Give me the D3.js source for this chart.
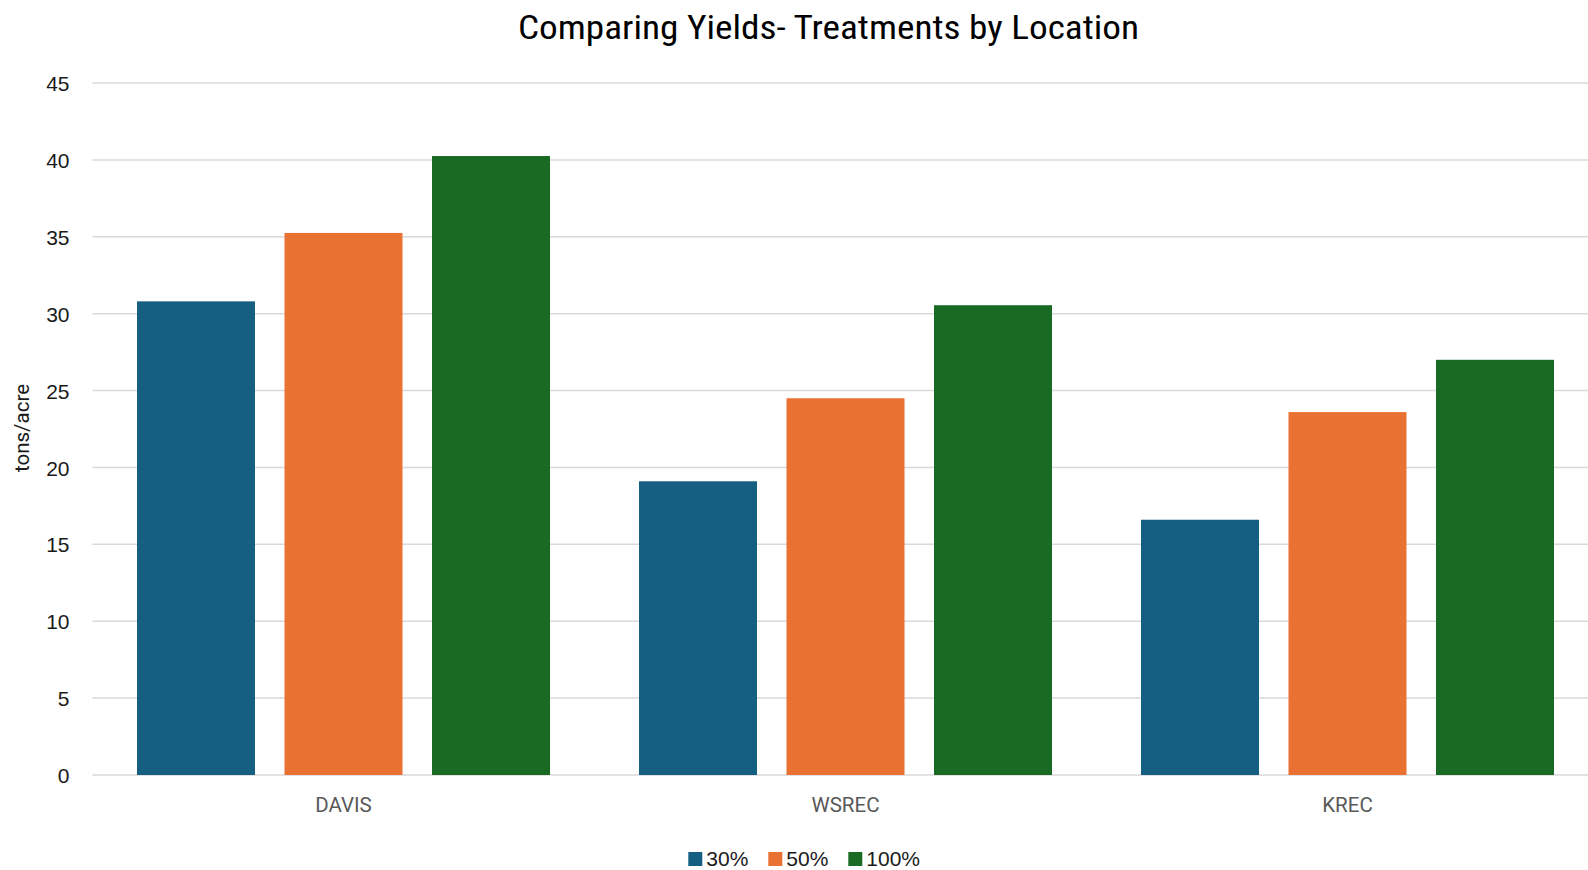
<!DOCTYPE html>
<html>
<head>
<meta charset="utf-8">
<script src="https://cdn.jsdelivr.net/npm/d3@7/dist/d3.min.js"></script>
<style>
  html, body { margin: 0; padding: 0; background: #fff; overflow: hidden; }
  svg { display: block; }
</style>
</head>
<body>
<svg id="chart" width="1588" height="870"></svg>
<script>
// Yield data by location and irrigation treatment
const locations = ["DAVIS", "WSREC", "KREC"];
const treatments = ["30%", "50%", "100%"];
const yield30 = [30.8, 19.1, 16.6];
const yield50 = [35.25, 24.5, 23.6];
const yield100 = [40.25, 30.55, 27.0];
const yTicks = [0, 5, 10, 15, 20, 25, 30, 35, 40, 45];
const colors = ["#156082", "#E97132", "#196B24"];

const seriesValues = [yield30, yield50, yield100];
const rows = locations.map((loc, i) => ({
  location: loc,
  values: treatments.map((t, j) => ({ treatment: t, value: seriesValues[j][i] }))
}));

const svg = d3.select("#chart");
const plot = { left: 92.5, right: 1598.5, top: 83, bottom: 775 };

const x0 = d3.scaleBand().domain(locations).range([plot.left, plot.right]).padding(0);
const groupPad = 44.5;
const x1 = d3.scaleBand().domain(treatments)
  .range([groupPad, x0.bandwidth() - groupPad])
  .paddingInner(0.2).paddingOuter(0);
const y = d3.scaleLinear().domain([0, 45]).range([plot.bottom, plot.top]);
const color = d3.scaleOrdinal().domain(treatments).range(colors);

// Horizontal gridlines
svg.append("g")
  .selectAll("line")
  .data(yTicks)
  .join("line")
  .attr("x1", plot.left)
  .attr("x2", 1588)
  .attr("y1", d => y(d))
  .attr("y2", d => y(d))
  .attr("stroke", "#d9d9d9")
  .attr("stroke-width", 1.5);

// Y axis labels
const yAxis = d3.axisLeft(y).tickValues(yTicks).tickSize(0).tickPadding(0);
const yg = svg.append("g").attr("transform", `translate(${plot.left - 23},0)`).call(yAxis);
yg.select(".domain").remove();
yg.selectAll("text")
  .attr("font-family", "'Liberation Sans', Arial, sans-serif")
  .attr("font-size", 21)
  .attr("fill", "#1a1a1a")
  .attr("dy", "0.36em");

// Bars
svg.append("g")
  .selectAll("g")
  .data(rows)
  .join("g")
  .attr("transform", d => `translate(${x0(d.location)},0)`)
  .selectAll("rect")
  .data(d => d.values)
  .join("rect")
  .attr("x", d => x1(d.treatment))
  .attr("width", x1.bandwidth())
  .attr("y", d => y(d.value))
  .attr("height", d => y(0) - y(d.value))
  .attr("fill", d => color(d.treatment));

// Category labels
const xAxis = d3.axisBottom(x0).tickSize(0).tickPadding(0);
const xg = svg.append("g").attr("transform", `translate(0,${plot.bottom + 30})`).call(xAxis);
xg.select(".domain").remove();
xg.selectAll("text")
  .attr("font-family", "Roboto, 'Liberation Sans', sans-serif")
  .attr("font-size", 20.5)
  .attr("fill", "#595959")
  .attr("dy", "0.36em");

// Title
svg.append("text")
  .attr("x", 828.5)
  .attr("y", 39)
  .attr("text-anchor", "middle")
  .attr("font-family", "'Liberation Sans Narrow', 'Roboto Condensed', 'DejaVu Sans Condensed', sans-serif")
  .attr("font-size", 33)
  .attr("fill", "#000")
  .attr("textLength", 621)
  .attr("lengthAdjust", "spacingAndGlyphs")
  .text("Comparing Yields- Treatments by Location");

// Y axis title
svg.append("text")
  .attr("transform", "translate(29,428) rotate(-90)")
  .attr("text-anchor", "middle")
  .attr("font-family", "Roboto, 'Liberation Sans', sans-serif")
  .attr("font-size", 20.5)
  .attr("fill", "#1a1a1a")
  .text("tons/acre");

// Legend
const legendX = [688.3, 768.3, 848.3];
const legend = svg.append("g")
  .selectAll("g")
  .data(treatments)
  .join("g")
  .attr("transform", (d, i) => `translate(${legendX[i]},852)`);
legend.append("rect")
  .attr("width", 14)
  .attr("height", 14)
  .attr("fill", d => color(d));
legend.append("text")
  .attr("x", 18)
  .attr("y", 14)
  .attr("font-family", "'Liberation Sans', Arial, sans-serif")
  .attr("font-size", 21)
  .attr("fill", "#1a1a1a")
  .text(d => d);
</script>
</body>
</html>
